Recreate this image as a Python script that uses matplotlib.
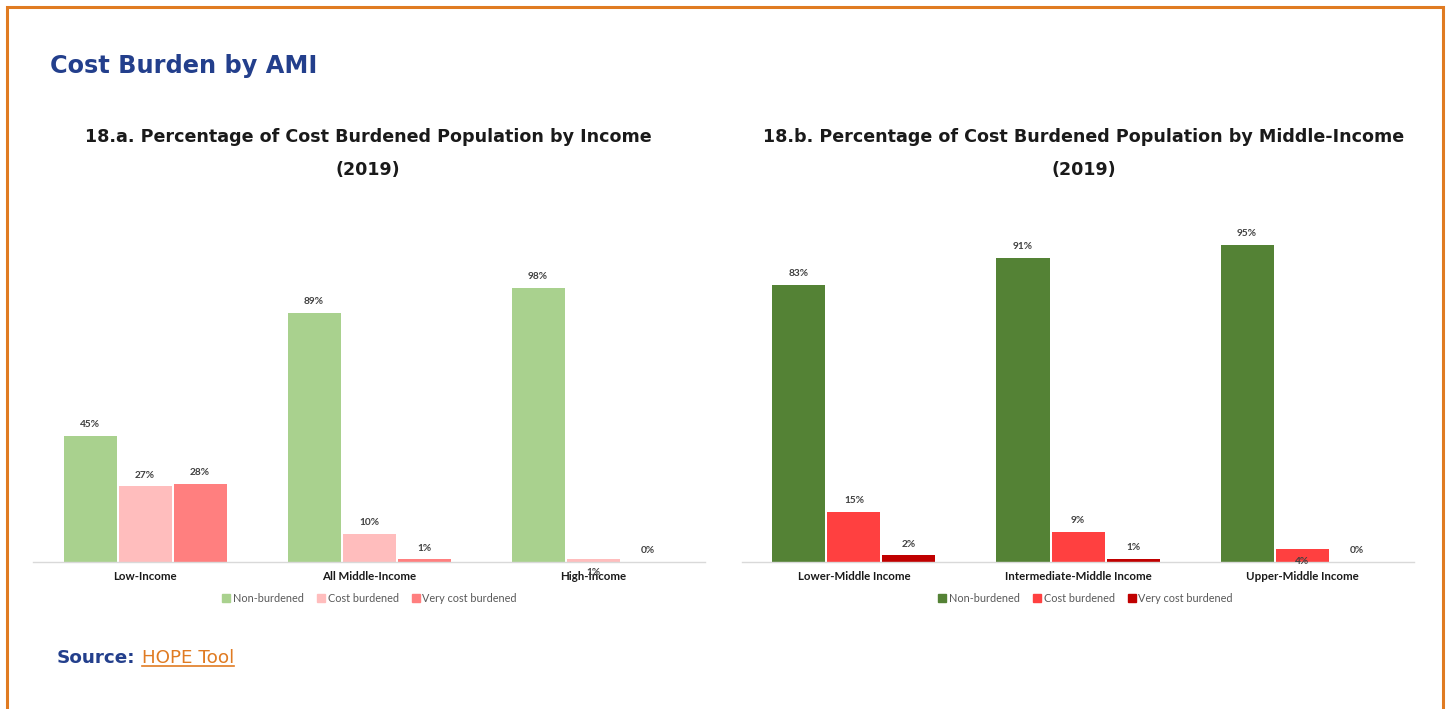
import matplotlib
matplotlib.use("Agg")
import matplotlib.pyplot as plt
from matplotlib.patches import Rectangle
from matplotlib.lines import Line2D

# ---------------- data ----------------
main_title = "Cost Burden by AMI"
title_a = "18.a. Percentage of Cost Burdened Population by Income\n(2019)"
title_b = "18.b. Percentage of Cost Burdened Population by Middle-Income\n(2019)"

cats_a = ["Low-Income", "All Middle-Income", "High-Income"]
nonburd_a = [45, 89, 98]
cost_a = [27, 10, 1]
very_a = [28, 1, 0]

cats_b = ["Lower-Middle Income", "Intermediate-Middle Income", "Upper-Middle Income"]
nonburd_b = [83, 91, 95]
cost_b = [15, 9, 4]
very_b = [2, 1, 0]

series_names = ["Non-burdened", "Cost burdened", "Very cost burdened"]
colors_a = ["#A9D18E", "#FFBDBD", "#FF7F7F"]
colors_b = ["#548235", "#FF4040", "#C00000"]

source_label = "Source:"
source_link = "HOPE Tool"

# ---------------- layout ----------------
W, H = 1450, 709
fig = plt.figure(figsize=(W / 100, H / 100), dpi=100)
fig.patch.set_facecolor("white")

NAVY = "#233F8C"
ORANGE = "#E07B22"
LABEL_COLOR = "#404040"
chart_font = ["Lato", "DejaVu Sans"]
title_font = ["DejaVu Sans"]

def fx(px):
    return px / W

def fy(py):
    return 1 - py / H

# border
fig.patches.append(Rectangle((fx(7), fy(760)), fx(1443) - fx(7), fy(7) - fy(760),
                             transform=fig.transFigure, fill=False,
                             edgecolor=ORANGE, linewidth=2.2, zorder=0))

fig.text(fx(50), fy(66), main_title, color=NAVY, fontsize=17.3, fontweight="bold",
         family=title_font, va="center", ha="left")

def draw_panel(left_px, right_px, base_px, px_per_pct, cats, vals, colors, title,
               title_cx, below_labels):
    height_px = 100 * px_per_pct
    ax = fig.add_axes([fx(left_px), fy(base_px), fx(right_px) - fx(left_px),
                       height_px / H])
    ax.set_xlim(-0.5, len(cats) - 0.5)
    ax.set_ylim(0, 100)
    width = 53 / 224
    step = 55 / 224
    for si, (series, col) in enumerate(zip(vals, colors)):
        xs = [i + (si - 1) * step for i in range(len(cats))]
        bars = ax.bar(xs, series, width=width, color=col, zorder=2)
        for bi, (b, v) in enumerate(zip(bars, series)):
            cx = b.get_x() + b.get_width() / 2
            if (bi, si) in below_labels:
                dy = below_labels[(bi, si)]
                ax.annotate(f"{v}%", (cx, 0), xytext=(0, dy), textcoords="offset points",
                            ha="center", va="center", fontsize=7.3, fontweight="bold",
                            color=LABEL_COLOR, family=chart_font, annotation_clip=False)
            else:
                ax.annotate(f"{v}%", (cx, v), xytext=(0, 8), textcoords="offset points",
                            ha="center", va="center", fontsize=7.3, fontweight="bold",
                            color=LABEL_COLOR, family=chart_font, annotation_clip=False)
    for s in ["top", "right", "left"]:
        ax.spines[s].set_visible(False)
    ax.spines["bottom"].set_color("#D9D9D9")
    ax.spines["bottom"].set_linewidth(1.0)
    ax.set_yticks([])
    ax.set_xticks(range(len(cats)))
    ax.set_xticklabels(cats, fontsize=8.3, fontweight="bold", color="#1a1a1a",
                       family=chart_font)
    ax.tick_params(axis="x", length=0, pad=6.5)
    ax.set_facecolor("none")

    fig.text(fx(title_cx), fy(153.5), title, ha="center", va="center", fontsize=12.6,
             fontweight="bold", color="#1a1a1a", family=title_font, linespacing=2.05)

    handles = [Line2D([0], [0], marker="s", linestyle="none", markersize=5.5,
                      markerfacecolor=c, markeredgecolor=c) for c in colors]
    fig.legend(handles, series_names, loc="center", ncol=3,
               bbox_to_anchor=(fx(title_cx + 2), fy(598)), frameon=False,
               prop={"family": chart_font, "size": 7.8}, labelcolor="#595959",
               handlelength=0.6, handletextpad=0.3, columnspacing=1.3)
    return ax

draw_panel(33, 705, 562, 2.8, cats_a, [nonburd_a, cost_a, very_a], colors_a, title_a,
           368, {(2, 1): -7.5})
draw_panel(742, 1414, 562, 3.34, cats_b, [nonburd_b, cost_b, very_b], colors_b, title_b,
           1084, {(2, 1): 0})

t1 = fig.text(fx(57), fy(658), source_label, color=NAVY, fontsize=13.2,
              fontweight="bold", family=title_font, va="center", ha="left")
fig.canvas.draw()
bb = t1.get_window_extent()
t2 = fig.text((bb.x1 + 6) / W, fy(658), source_link, color=ORANGE, fontsize=13.2,
              family=title_font, va="center", ha="left")
fig.canvas.draw()
bb2 = t2.get_window_extent()
fig.add_artist(Line2D([bb2.x0 / W, bb2.x1 / W], [(bb2.y0 + 1) / H, (bb2.y0 + 1) / H],
                      color=ORANGE, linewidth=1.2, transform=fig.transFigure))

fig.savefig("out.png", dpi=100, facecolor="white")
